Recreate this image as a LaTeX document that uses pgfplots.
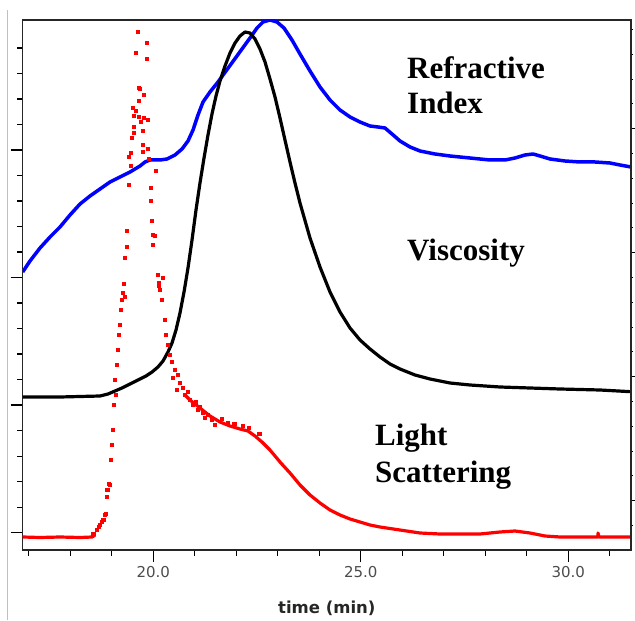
\documentclass[border=0pt]{standalone}
\usepackage{pgfplots}
\pgfplotsset{compat=1.18}
\usepackage{fontspec}
\setmainfont{Liberation Serif}
\newfontfamily\dejavu{DejaVu Sans}
\definecolor{riblue}{RGB}{0,0,255}
\definecolor{lsred}{RGB}{255,0,0}
\begin{document}
\begin{tikzpicture}
\begin{axis}[name=ax,
  scale only axis, width=608.3pt, height=530pt,
  xmin=16.853, xmax=31.511, ymin=0, ymax=530,
  axis line style={line width=1.3pt, draw=black!85},
  tick style={line width=1.1pt, black},
  tick align=outside,
  xtick pos=bottom, ytick pos=left,
  xtick={20,25,30}, xticklabels={20.0,25.0,30.0},
  minor xtick={17,18,19,21,22,23,24,26,27,28,29,31},
  ytick={17.3,145,272.5,400}, yticklabels={},
  minor ytick={42.8,68.3,93.8,119.3,170.5,196,221.5,247,298,323.5,349,374.5,425.5,451,476.5,502},
  major tick length=12pt, minor tick length=5.5pt,
  xticklabel style={font=\dejavu\fontsize{15}{15}\selectfont, text=black!70, yshift=-1pt},
  xlabel={time (min)},
  xlabel style={at={(axis description cs:0.5,0)}, anchor=center, yshift=-58pt,
    font=\dejavu\bfseries\fontsize{16.5}{17}\selectfont, text=black!85},
]
% Refractive index (blue)
\addplot[riblue, line width=3.5pt, line join=round] coordinates {
(16.853,278) (17.029,289) (17.270,302) (17.511,313) (17.752,323) (17.993,335) (18.234,346) (18.475,354) (18.716,361) (18.957,368) (19.198,373) (19.439,378) (19.680,384) (19.800,388) (19.920,390) (20.161,390) (20.330,391) (20.523,395) (20.692,401) (20.836,409) (20.957,420) (21.077,435) (21.198,448) (21.366,458) (21.559,468) (21.752,479) (21.945,490) (22.137,501) (22.330,512) (22.499,522) (22.643,528) (22.812,530) (22.981,528) (23.149,522) (23.342,510) (23.535,496) (23.776,479) (24.017,463) (24.258,450) (24.499,440) (24.740,433) (24.981,428) (25.222,424) (25.415,423) (25.583,422) (25.752,416) (25.945,409) (26.186,403) (26.427,399) (26.788,396) (27.149,394) (27.631,392) (28.113,390) (28.475,390) (28.716,392) (28.957,395) (29.149,396) (29.318,394) (29.559,391) (29.920,389) (30.281,388) (30.643,388) (31.004,387) (31.245,385) (31.510,383)
};
% Viscosity (black)
\addplot[black, line width=3.2pt, line join=round] coordinates {
(16.853,153) (17.752,153) (18.716,154) (18.908,156) (19.077,159) (19.246,162) (19.439,166) (19.631,170) (19.824,174) (19.969,178) (20.113,183) (20.234,189) (20.354,198) (20.451,207) (20.547,220) (20.643,237) (20.740,258) (20.836,282) (20.933,310) (21.029,340) (21.125,367) (21.222,392) (21.318,415) (21.414,436) (21.511,454) (21.607,469) (21.728,484) (21.848,497) (21.969,507) (22.089,514) (22.210,518) (22.330,517) (22.451,511) (22.571,501) (22.692,488) (22.812,471) (22.933,453) (23.053,432) (23.173,410) (23.294,388) (23.414,367) (23.535,347) (23.776,312) (24.017,283) (24.258,258) (24.499,238) (24.740,222) (24.981,210) (25.222,201) (25.463,193) (25.704,186) (25.945,181) (26.306,175) (26.667,171) (27.149,167) (27.631,165) (28.354,163) (29.077,162) (29.800,161) (30.764,160) (31.510,158.3)
};
% Light scattering (red): baseline
\addplot[lsred, line width=3.2pt] coordinates {
(16.853,13) (17.270,12.5) (17.752,13) (18.234,12.5) (18.523,13) (18.595,15)
};
% Light scattering: tail
\addplot[lsred, line width=3.2pt, line join=round] coordinates {
(20.764,155) (20.884,150) (21.125,142) (21.366,134) (21.607,128) (21.848,124) (22.089,121) (22.282,119) (22.450,114) (22.619,108) (22.812,100) (23.053,88) (23.294,77) (23.535,65) (23.776,55) (24.017,47) (24.258,40) (24.499,35) (24.740,31) (24.981,28) (25.222,25) (25.462,23) (25.944,20) (26.426,17) (26.908,16) (27.390,16) (27.872,16) (28.354,18) (28.715,19) (29.077,17) (29.438,14) (29.800,13) (30.715,13) (30.715,17) (30.740,13) (31.511,13)
};
% Light scattering: scattered points around the peak and shoulder
\addplot[only marks, mark=square*, mark size=1.6pt, lsred] coordinates {
(18.554,16.7) (18.636,20) (18.675,23.3) (18.716,25) (18.757,28.3) (18.795,30.7) (18.836,35) (18.860,36.7) (18.877,53.3) (18.891,60) (18.916,66.7) (18.957,65) (18.981,90) (19.005,105) (19.029,120) (19.053,145) (19.101,155) (19.077,170) (19.125,185) (19.149,200) (19.173,215) (19.198,225) (19.222,240) (19.246,250) (19.270,257) (19.294,266) (19.318,253) (19.318,292) (19.366,303) (19.366,319) (19.414,365) (19.414,393) (19.463,384) (19.463,397) (19.487,412) (19.511,442) (19.535,423) (19.535,417) (19.535,434) (19.583,439) (19.583,497) (19.631,518) (19.655,462) (19.655,449) (19.655,433) (19.679,461) (19.704,428) (19.752,419) (19.752,405) (19.752,398) (19.776,455) (19.776,432) (19.848,507) (19.848,491) (19.872,430) (19.872,401) (19.896,391) (19.944,362) (19.944,349) (19.969,329) (19.993,315) (20.041,314) (19.993,305) (20.065,379) (20.113,275) (20.137,267) (20.137,264) (20.234,272) (20.161,260) (20.210,250) (20.282,230) (20.306,215) (20.354,205) (20.402,195) (20.451,188) (20.523,180) (20.475,172) (20.595,175) (20.643,167) (20.571,160) (20.716,162) (20.764,155) (20.836,158) (20.884,150) (20.957,145) (21.029,148) (21.077,140) (21.125,143) (21.197,137) (21.246,132) (21.318,135) (21.414,130) (21.487,125) (21.650,131) (21.800,127) (21.950,126) (22.150,124) (22.300,122) (22.550,116)
};
\node[anchor=base west, inner sep=0pt, font=\bfseries\fontsize{31}{35}\selectfont] at (axis cs:26.113,471) {Refractive};
\node[anchor=base west, inner sep=0pt, font=\bfseries\fontsize{31}{35}\selectfont] at (axis cs:26.113,436) {Index};
\node[anchor=base west, inner sep=0pt, font=\bfseries\fontsize{31}{35}\selectfont] at (axis cs:26.113,289) {Viscosity};
\node[anchor=base west, inner sep=0pt, font=\bfseries\fontsize{31}{35}\selectfont] at (axis cs:25.342,105) {Light};
\node[anchor=base west, inner sep=0pt, font=\bfseries\fontsize{31}{35}\selectfont] at (axis cs:25.342,68) {Scattering};
\end{axis}
\begin{axis}[
  scale only axis, width=608.3pt, height=530pt,
  at={(ax.south west)}, anchor=south west,
  xmin=16.853, xmax=31.511, ymin=0, ymax=530,
  axis x line=none, axis y line*=right,
  axis line style={line width=1.3pt, draw=black!85, -},
  tick style={line width=1.1pt, black},
  tick align=outside,
  ytick={49.3,173.3,297.3,421.3}, yticklabels={},
  minor ytick={24.5,74.1,98.9,123.7,148.5,198.1,222.9,247.7,272.5,322.1,346.9,371.7,396.5,446.1,470.9,495.7,520.5},
  major tick length=5pt, minor tick length=2pt,
]
\addplot[draw=none] coordinates {(20,100)};
\end{axis}
\draw[black!25, line width=1pt] ([xshift=-14.7pt, yshift=10pt]ax.north west) -- ([xshift=-14.7pt, yshift=-70pt]ax.south west);
\pgfresetboundingbox
\path ([shift={(-22.7pt,-70pt)}]ax.south west) rectangle ([shift={(4pt,20pt)}]ax.north east);
\end{tikzpicture}
\end{document}
